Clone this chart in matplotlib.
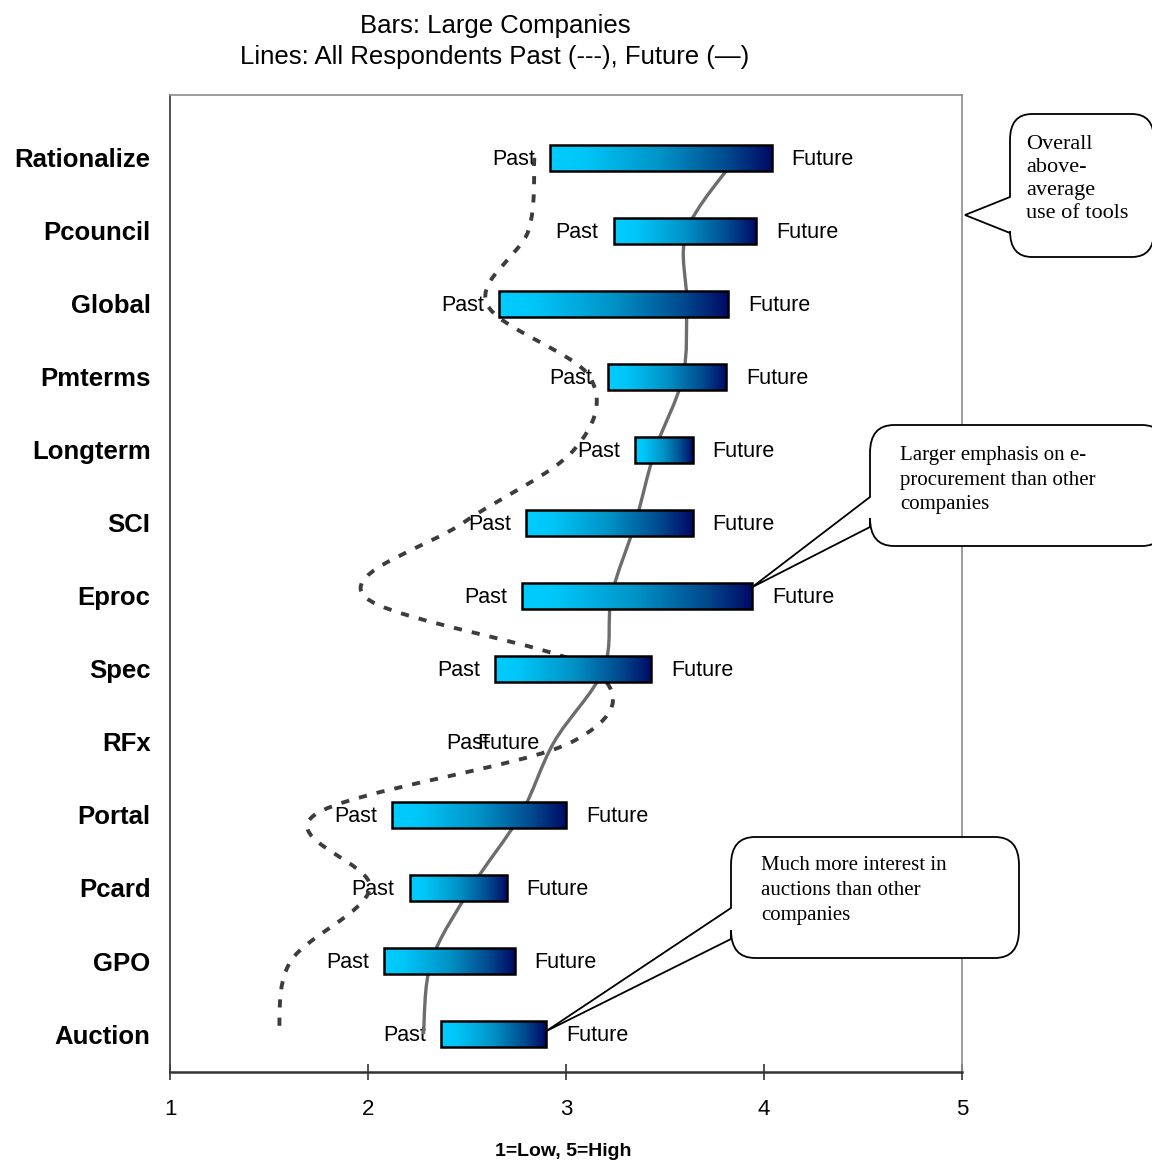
import numpy as np
import matplotlib
matplotlib.use('Agg')
import matplotlib.pyplot as plt
from matplotlib.colors import LinearSegmentedColormap
from matplotlib.path import Path
from matplotlib.patches import PathPatch, Rectangle
from matplotlib.transforms import Affine2D

W, H = 1152, 1162

categories = ['Rationalize', 'Pcouncil', 'Global', 'Pmterms', 'Longterm', 'SCI',
              'Eproc', 'Spec', 'RFx', 'Portal', 'Pcard', 'GPO', 'Auction']

# bars: large companies, past use -> expected future use (1=low, 5=high)
large_past = [2.92, 3.24, 2.66, 3.21, 3.35, 2.80, 2.78, 2.64, 2.69, 2.12, 2.21, 2.08, 2.37]
large_future = [4.04, 3.96, 3.82, 3.81, 3.64, 3.64, 3.94, 3.43, 2.45, 3.00, 2.70, 2.74, 2.90]

# lines: all respondents
all_past = [2.84, 2.81, 2.60, 3.12, 3.04, 2.48, 1.98, 3.13, 3.03, 1.73, 2.01, 1.61, 1.55]
all_future = [3.86, 3.61, 3.61, 3.59, 3.45, 3.35, 3.23, 3.19, 2.94, 2.77, 2.52, 2.32, 2.28]

x_ticks = [1, 2, 3, 4, 5]

plt.rcParams['font.family'] = 'Liberation Sans'

fig = plt.figure(figsize=(W / 100, H / 100), dpi=100)
ax = fig.add_axes([170 / W, 1 - 1072 / H, 792 / W, 977 / H])

ypos = np.arange(len(categories))[::-1]
ax.set_xlim(1, 5)
ax.set_ylim(-0.52, 12.86)

# axes cosmetics
ax.set_xticks(x_ticks)
ax.set_xticklabels([str(t) for t in x_ticks], fontsize=16)
ax.set_yticks(ypos)
ax.set_yticklabels(categories, fontsize=18.5, fontweight='bold')
ax.tick_params(axis='y', length=0, pad=14)
ax.tick_params(axis='x', direction='inout', length=11.5, width=1.2,
               color='#333333', pad=14)
for side in ['top', 'right']:
    ax.spines[side].set_color('#8c8c8c')
    ax.spines[side].set_linewidth(1.2)
ax.spines['left'].set_color('#444444')
ax.spines['left'].set_linewidth(1.3)
ax.spines['bottom'].set_color('#333333')
ax.spines['bottom'].set_linewidth(1.8)

ax.set_xlabel('1=Low, 5=High', fontsize=14, fontweight='bold')
ax.xaxis.set_label_coords(0.496, -0.073)

# gradient bars
bar_cmap = LinearSegmentedColormap.from_list(
    'bar', [(0.0, '#00ccff'), (0.15, '#00c6f8'), (0.5, '#0092c6'),
            (0.8, '#004a8e'), (1.0, '#000a66')])
grad = np.linspace(0, 1, 256).reshape(1, -1)
bh = 0.356
for y, p, f in zip(ypos, large_past, large_future):
    if f > p:
        ax.imshow(grad, extent=[p, f, y - bh / 2, y + bh / 2], aspect='auto',
                  cmap=bar_cmap, zorder=4, interpolation='bilinear')
        ax.add_patch(Rectangle((p, y - bh / 2), f - p, bh, fill=False,
                               edgecolor='black', lw=1.8, zorder=4.1))
    ax.text(p - 0.076, y - 0.1, 'Past', ha='right', va='baseline', fontsize=15.5,
            zorder=2.5)
    ax.text(f + 0.1, y - 0.1, 'Future', ha='left', va='baseline', fontsize=15.5,
            zorder=2.5)

ax.set_xlim(1, 5)
ax.set_ylim(-0.52, 12.86)


def smooth_path(xs, ys):
    # catmull-rom through the points, built in screen space so the bends look even
    pts = ax.transData.transform(np.column_stack([xs, ys]))
    n = len(pts)
    verts = [pts[0]]
    codes = [Path.MOVETO]
    for i in range(n - 1):
        p0 = pts[max(i - 1, 0)]
        p1, p2 = pts[i], pts[i + 1]
        p3 = pts[min(i + 2, n - 1)]
        verts += [p1 + (p2 - p0) / 6, p2 - (p3 - p1) / 6, p2]
        codes += [Path.CURVE4] * 3
    verts = ax.transData.inverted().transform(np.array(verts))
    return Path(verts, codes)


ax.add_patch(PathPatch(smooth_path(all_past, ypos), fill=False, edgecolor='#3c3c3c',
                       lw=2.8, linestyle=(0, (2.1, 2.6)), zorder=3, capstyle='butt'))
ax.add_patch(PathPatch(smooth_path(all_future, ypos), fill=False, edgecolor='#6d6d6d',
                       lw=2.4, zorder=3))

# title
fig.text(495 / W, 1 - 33 / H, 'Bars: Large Companies', ha='center', va='baseline',
         fontsize=18.5)
fig.text(495 / W, 1 - 64 / H, 'Lines: All Respondents Past (---), Future (\u2014)',
         ha='center', va='baseline', fontsize=18.5)

# callouts, laid out in image pixels (origin top left)
px = Affine2D().scale(1 / W, -1 / H).translate(0, 1) + fig.transFigure


def to_px(x, y):
    d = ax.transData.transform((x, y))
    return (d[0], H - d[1])


def callout(x0, y0, x1, y1, wy0, wy1, tip, lines, tx, ty, step, rx=22, ry=26,
            size=15):
    v = [(x0 + rx, y0), (x1 - rx, y0), (x1, y0), (x1, y0 + ry),
         (x1, y1 - ry), (x1, y1), (x1 - rx, y1),
         (x0 + rx, y1), (x0, y1), (x0, y1 - ry),
         (x0, wy1), tip, (x0, wy0),
         (x0, y0 + ry), (x0, y0), (x0 + rx, y0), (x0 + rx, y0)]
    c = [Path.MOVETO, Path.LINETO, Path.CURVE3, Path.CURVE3,
         Path.LINETO, Path.CURVE3, Path.CURVE3,
         Path.LINETO, Path.CURVE3, Path.CURVE3,
         Path.LINETO, Path.LINETO, Path.LINETO,
         Path.LINETO, Path.CURVE3, Path.CURVE3, Path.CLOSEPOLY]
    patch = PathPatch(Path(v, c), facecolor='white', edgecolor='black', lw=1.3,
                      transform=px, zorder=10, clip_on=False)
    fig.add_artist(patch)
    for k, line in enumerate(lines):
        fig.text(tx, ty + k * step, line, transform=px, ha='left', va='baseline',
                 fontsize=size, family='Liberation Serif', zorder=11)


callout(1010, 114, 1154, 257, 197, 233, (965, 215),
        ['Overall', 'above-', 'average', 'use of tools'], 1026, 149, 23, size=16)

eproc = categories.index('Eproc')
callout(870, 425, 1166, 546, 497, 527,
        to_px(large_future[eproc], ypos[eproc] + 0.12),
        ['Larger emphasis on e-', 'procurement than other', 'companies'],
        900, 460, 24.5, rx=24, ry=28)

auction = categories.index('Auction')
callout(731, 837, 1019, 958, 908, 939,
        to_px(large_future[auction], ypos[auction] + 0.04),
        ['Much more interest in', 'auctions than other', 'companies'],
        761, 870, 25, rx=24, ry=28)

fig.savefig('out.png', dpi=100)
